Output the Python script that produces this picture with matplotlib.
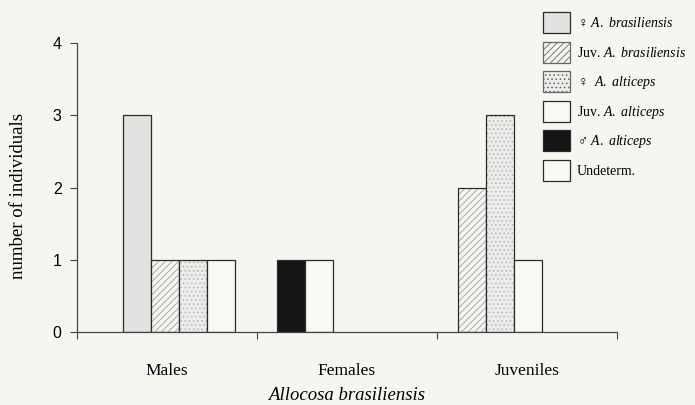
import matplotlib
matplotlib.use('Agg')
import numpy as np
import matplotlib.pyplot as plt
from matplotlib.patches import Patch

plt.rcParams['mathtext.fontset'] = 'custom'
plt.rcParams['mathtext.rm'] = 'Liberation Serif'
plt.rcParams['mathtext.it'] = 'Liberation Serif:italic'
plt.rcParams['hatch.linewidth'] = 0.6

categories = ["Males", "Females", "Juveniles"]
series = ["♀ $\\it{A.\\ brasiliensis}$", "Juv. $\\it{A.\\ brasiliensis}$", "♀  $\\it{A.\\ alticeps}$",
          "Juv. $\\it{A.\\ alticeps}$", "♂ $\\it{A.\\ alticeps}$", "Undeterm."]
# counts per series for Males, Females, Juveniles
fem_brasiliensis = [3, 0, 0]
juv_brasiliensis = [1, 0, 2]
fem_alticeps = [1, 0, 3]
juv_alticeps = [1, 0, 1]
male_alticeps = [0, 1, 0]
undeterm = [0, 1, 0]
counts = [fem_brasiliensis, juv_brasiliensis, fem_alticeps, juv_alticeps, male_alticeps, undeterm]

# styles
faces = ['#e2e2e0', '#f4f4f0', '#ececea', '#f8f8f5', '#151515', '#f8f8f5']
hatches = [None, '/////', '....', None, None, None]
hatch_cols = [None, '#a0a0a0', '#b4b4b4', None, None, None]
group_start = [-0.244, -0.39, -0.383]   # left edge of first bar, relative to group centre
w = 0.155

bg = '#f6f6f1'
fig = plt.figure(figsize=(6.95, 4.05), dpi=100, facecolor=bg)
ax = fig.add_axes([77/695, 1-332/405, 540/695, 289/405])
ax.set_facecolor(bg)

for g in range(len(categories)):
    k = 0
    for s in range(len(series)):
        v = counts[s][g]
        if v == 0:
            continue
        x = g + group_start[g] + (k + 0.5)*w
        if hatches[s]:
            ax.bar(x, v, w, color=faces[s], hatch=hatches[s], edgecolor=hatch_cols[s], linewidth=0)
            ax.bar(x, v, w, fill=False, edgecolor='#2a2a2a', linewidth=0.9)
        else:
            ax.bar(x, v, w, color=faces[s], edgecolor='#2a2a2a', linewidth=0.9)
        k += 1

# legend proxies
handles = []
for s in range(len(series)):
    if hatches[s]:
        handles.append(Patch(facecolor=faces[s], hatch=hatches[s], edgecolor='#666666', linewidth=0.9))
    else:
        handles.append(Patch(facecolor=faces[s], edgecolor='#2a2a2a', linewidth=0.9))
leg = fig.legend(handles, series, loc='upper left', bbox_to_anchor=(543/695, 1-12/405),
                 bbox_transform=fig.transFigure, frameon=False, borderpad=0, borderaxespad=0,
                 handlelength=1.95, handleheight=1.95, labelspacing=0.62, handletextpad=0.5,
                 prop={'family': ['Liberation Serif', 'DejaVu Sans'], 'size': 10})

ax.set_xlim(-0.5, 2.5)
ax.set_ylim(0, 4)
ax.set_yticks([0, 1, 2, 3, 4])
ax.set_yticklabels(['0', '1', '2', '3', '4'], fontfamily='Liberation Sans', fontsize=11.5)
ax.tick_params(axis='y', length=5, width=0.8, color='#444444', pad=6)

ax.set_xticks([-0.5, 0.5, 1.5, 2.5])
ax.set_xticklabels([])
ax.tick_params(axis='x', which='major', length=5, width=0.8, color='#444444', direction='out')
ax.set_xticks([0, 1, 2], minor=True)
ax.set_xticklabels(categories, minor=True, fontfamily='Liberation Serif', fontsize=12.5)
ax.tick_params(axis='x', which='minor', length=0, pad=22)

for sp in ['top', 'right']:
    ax.spines[sp].set_visible(False)
for sp in ['left', 'bottom']:
    ax.spines[sp].set_color('#444444')
    ax.spines[sp].set_linewidth(0.9)

ax.set_ylabel('number of individuals', fontfamily='Liberation Serif', fontsize=13.5)
ax.yaxis.set_label_coords(-0.092, 0.47)
ax.set_xlabel('Allocosa brasiliensis', fontfamily='Liberation Serif', fontstyle='italic',
              fontsize=13.5, labelpad=6)

fig.savefig('out.png', dpi=100, facecolor=bg)
